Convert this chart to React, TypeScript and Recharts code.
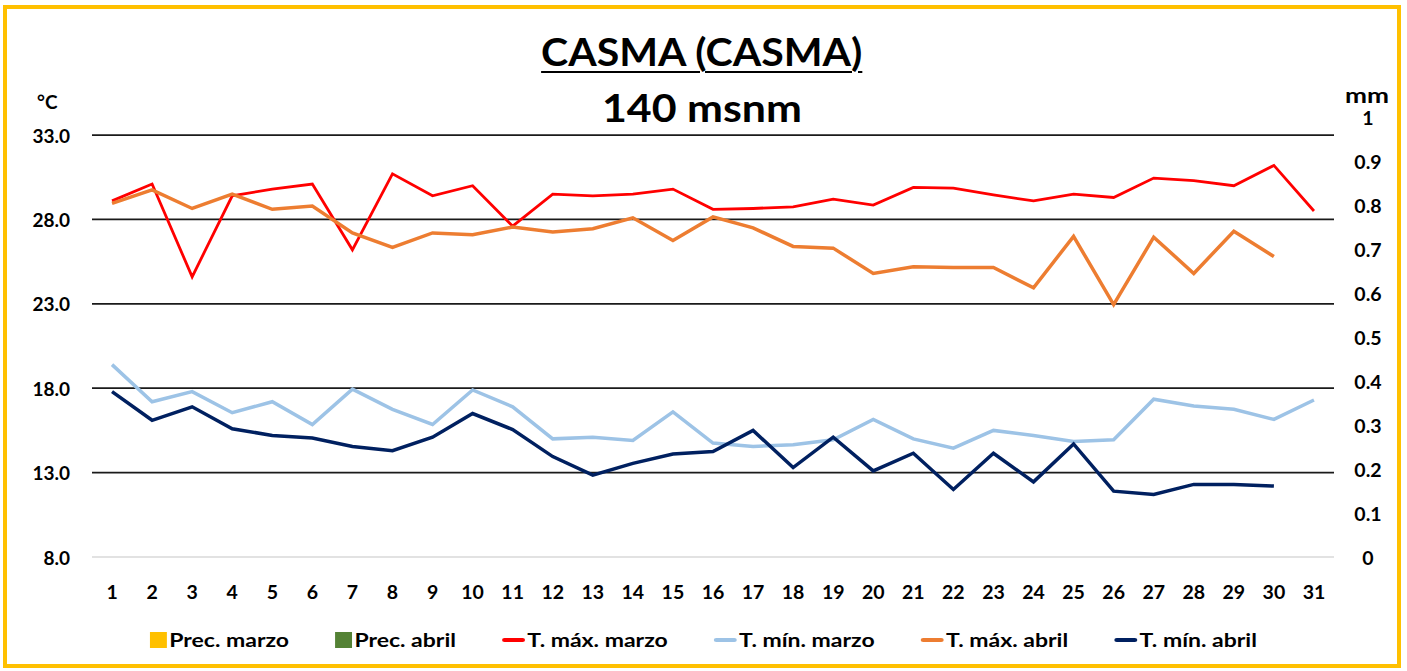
import React from "react";
import { ComposedChart, Line, Bar, XAxis, YAxis, CartesianGrid } from "recharts";

const days = ["1","2","3","4","5","6","7","8","9","10","11","12","13","14","15","16","17","18","19","20","21","22","23","24","25","26","27","28","29","30","31"];
const tMaxMarzo = [29.1, 30.1, 24.6, 29.4, 29.8, 30.1, 26.2, 30.7, 29.4, 30.0, 27.6, 29.5, 29.4, 29.5, 29.8, 28.6, 28.65, 28.75, 29.2, 28.85, 29.9, 29.85, 29.45, 29.1, 29.5, 29.3, 30.45, 30.3, 30.0, 31.2, 28.5];
const tMinMarzo = [19.4, 17.2, 17.8, 16.55, 17.2, 15.85, 17.95, 16.75, 15.85, 17.9, 16.9, 15.0, 15.1, 14.9, 16.6, 14.75, 14.55, 14.65, 14.95, 16.15, 15.0, 14.45, 15.5, 15.2, 14.85, 14.95, 17.35, 16.95, 16.75, 16.15, 17.3];
const tMaxAbril = [28.95, 29.75, 28.65, 29.5, 28.6, 28.8, 27.2, 26.35, 27.2, 27.1, 27.55, 27.25, 27.45, 28.1, 26.75, 28.15, 27.5, 26.4, 26.3, 24.8, 25.2, 25.15, 25.15, 23.95, 27.0, 22.95, 26.95, 24.8, 27.3, 25.8, null];
const tMinAbril = [17.8, 16.1, 16.9, 15.6, 15.2, 15.05, 14.55, 14.3, 15.1, 16.5, 15.55, 13.95, 12.85, 13.55, 14.1, 14.25, 15.5, 13.3, 15.1, 13.1, 14.15, 12.0, 14.15, 12.45, 14.7, 11.9, 11.7, 12.3, 12.3, 12.2, null];
const precMarzo = [0,0,0,0,0,0,0,0,0,0,0,0,0,0,0,0,0,0,0,0,0,0,0,0,0,0,0,0,0,0,0];
const precAbril = [0,0,0,0,0,0,0,0,0,0,0,0,0,0,0,0,0,0,0,0,0,0,0,0,0,0,0,0,0,0,0];

const leftTicks = [8, 13, 18, 23, 28, 33];
const rightTicks = [0, 0.1, 0.2, 0.3, 0.4, 0.5, 0.6, 0.7, 0.8, 0.9, 1];
const gridValues = [13, 18, 23, 28, 33];

const data = days.map((d, i) => ({
  day: d,
  precMarzo: precMarzo[i],
  precAbril: precAbril[i],
  tMaxMarzo: tMaxMarzo[i],
  tMinMarzo: tMinMarzo[i],
  tMaxAbril: tMaxAbril[i],
  tMinAbril: tMinAbril[i],
}));

const FONT = "Lato, 'Open Sans', sans-serif";

const legendItems = [
  { name: "Prec. marzo", color: "#FFC000", type: "square" },
  { name: "Prec. abril", color: "#548235", type: "square" },
  { name: "T. máx. marzo", color: "#FF0000", type: "line" },
  { name: "T. mín. marzo", color: "#9DC3E6", type: "line" },
  { name: "T. máx. abril", color: "#ED7D31", type: "line" },
  { name: "T. mín. abril", color: "#002060", type: "line" },
];

const LeftTick = (props: any) => (
  <text x={props.x} y={props.y} textAnchor="end" dominantBaseline="central" fontFamily={FONT} fontWeight={700} fontSize={19} fill="#000">
    {Number(props.payload.value).toFixed(1)}
  </text>
);
const RightTick = (props: any) => {
  const v = Number(props.payload.value);
  const label = v === 0 || v === 1 ? String(v) : v.toFixed(1);
  return (
    <text x={props.x} y={props.y} textAnchor="middle" dominantBaseline="central" fontFamily={FONT} fontWeight={700} fontSize={19.5} fill="#000">
      {label}
    </text>
  );
};
const BottomTick = (props: any) => (
  <text x={props.x} y={props.y} textAnchor="middle" dominantBaseline="central" fontFamily={FONT} fontWeight={700} fontSize={19.5} fill="#000">
    {props.payload.value}
  </text>
);

export default function App() {
  return (
    <div style={{ position: "absolute", left: 0, top: 0, width: 1407, height: 671, background: "#fff", fontFamily: FONT }}>
      <div style={{ position: "absolute", left: 3, top: 5, width: 1398, height: 663, border: "4px solid #FFC000", boxSizing: "border-box" }} />
      <div style={{ position: "absolute", left: 0, width: 1403, top: 27, textAlign: "center", fontSize: 38, fontWeight: 700, color: "#000", lineHeight: "48px" }}>
        <span style={{ display: "inline-block", transform: "scaleX(1.08)", textDecoration: "underline", textDecorationThickness: 2, textUnderlineOffset: 5 }}>CASMA (CASMA)</span>
      </div>
      <div style={{ position: "absolute", left: 0, width: 1403, top: 83, textAlign: "center", fontSize: 39, fontWeight: 700, color: "#000", lineHeight: "48px" }}>
        <span style={{ display: "inline-block", transform: "scaleX(1.1)" }}>140 msnm</span>
      </div>
      <div style={{ position: "absolute", left: 37, top: 90, fontSize: 19, fontWeight: 700, color: "#000" }}>°C</div>
      <div style={{ position: "absolute", left: 1345, top: 82, fontSize: 21, fontWeight: 700, color: "#000", transform: "scaleX(1.25)", transformOrigin: "left center" }}>mm</div>
      <div style={{ position: "absolute", left: 0, top: 628, width: 1407, display: "flex", justifyContent: "center" }}>
        <div style={{ display: "flex", alignItems: "center", gap: 38, fontSize: 19, fontWeight: 700, color: "#000", transform: "scaleX(1.21)", transformOrigin: "center center" }}>
          {legendItems.map((it) => (
            <div key={it.name} style={{ display: "flex", alignItems: "center" }}>
              {it.type === "square" ? (
                <div style={{ width: 14, height: 16, background: it.color, marginRight: 2 }} />
              ) : (
                <div style={{ width: 19, height: 4, background: it.color, marginRight: 2, borderRadius: 2 }} />
              )}
              <span>{it.name}</span>
            </div>
          ))}
        </div>
      </div>
      <div style={{ position: "absolute", left: 0, top: 0 }}>
        <ComposedChart width={1407} height={671} data={data} margin={{ top: 117, right: 0, bottom: 74, left: 0 }}>
          <CartesianGrid yAxisId="left" vertical={false} horizontalValues={gridValues} stroke="#1a1a1a" strokeWidth={1.8} />
          <XAxis dataKey="day" interval={0} height={40} tickLine={false} tickSize={0} tickMargin={34} axisLine={{ stroke: "#d9d9d9", strokeWidth: 1.5 }} tick={<BottomTick />} />
          <YAxis yAxisId="left" orientation="left" width={92} domain={[8, 34.07]} ticks={leftTicks} allowDataOverflow axisLine={false} tickLine={false} tickSize={0} tickMargin={22} tick={<LeftTick />} />
          <YAxis yAxisId="right" orientation="right" width={73} domain={[0, 1]} ticks={rightTicks} axisLine={false} tickLine={false} tickSize={0} tickMargin={34} tick={<RightTick />} />
          <Bar yAxisId="right" dataKey="precMarzo" name="Prec. marzo" fill="#FFC000" isAnimationActive={false} />
          <Bar yAxisId="right" dataKey="precAbril" name="Prec. abril" fill="#548235" isAnimationActive={false} />
          <Line yAxisId="left" type="linear" dataKey="tMaxMarzo" name="T. máx. marzo" stroke="#FF0000" strokeWidth={2.8} dot={false} isAnimationActive={false} />
          <Line yAxisId="left" type="linear" dataKey="tMinMarzo" name="T. mín. marzo" stroke="#9DC3E6" strokeWidth={3.5} dot={false} isAnimationActive={false} />
          <Line yAxisId="left" type="linear" dataKey="tMaxAbril" name="T. máx. abril" stroke="#ED7D31" strokeWidth={3.5} dot={false} isAnimationActive={false} />
          <Line yAxisId="left" type="linear" dataKey="tMinAbril" name="T. mín. abril" stroke="#002060" strokeWidth={3.5} dot={false} isAnimationActive={false} />
        </ComposedChart>
      </div>
    </div>
  );
}
